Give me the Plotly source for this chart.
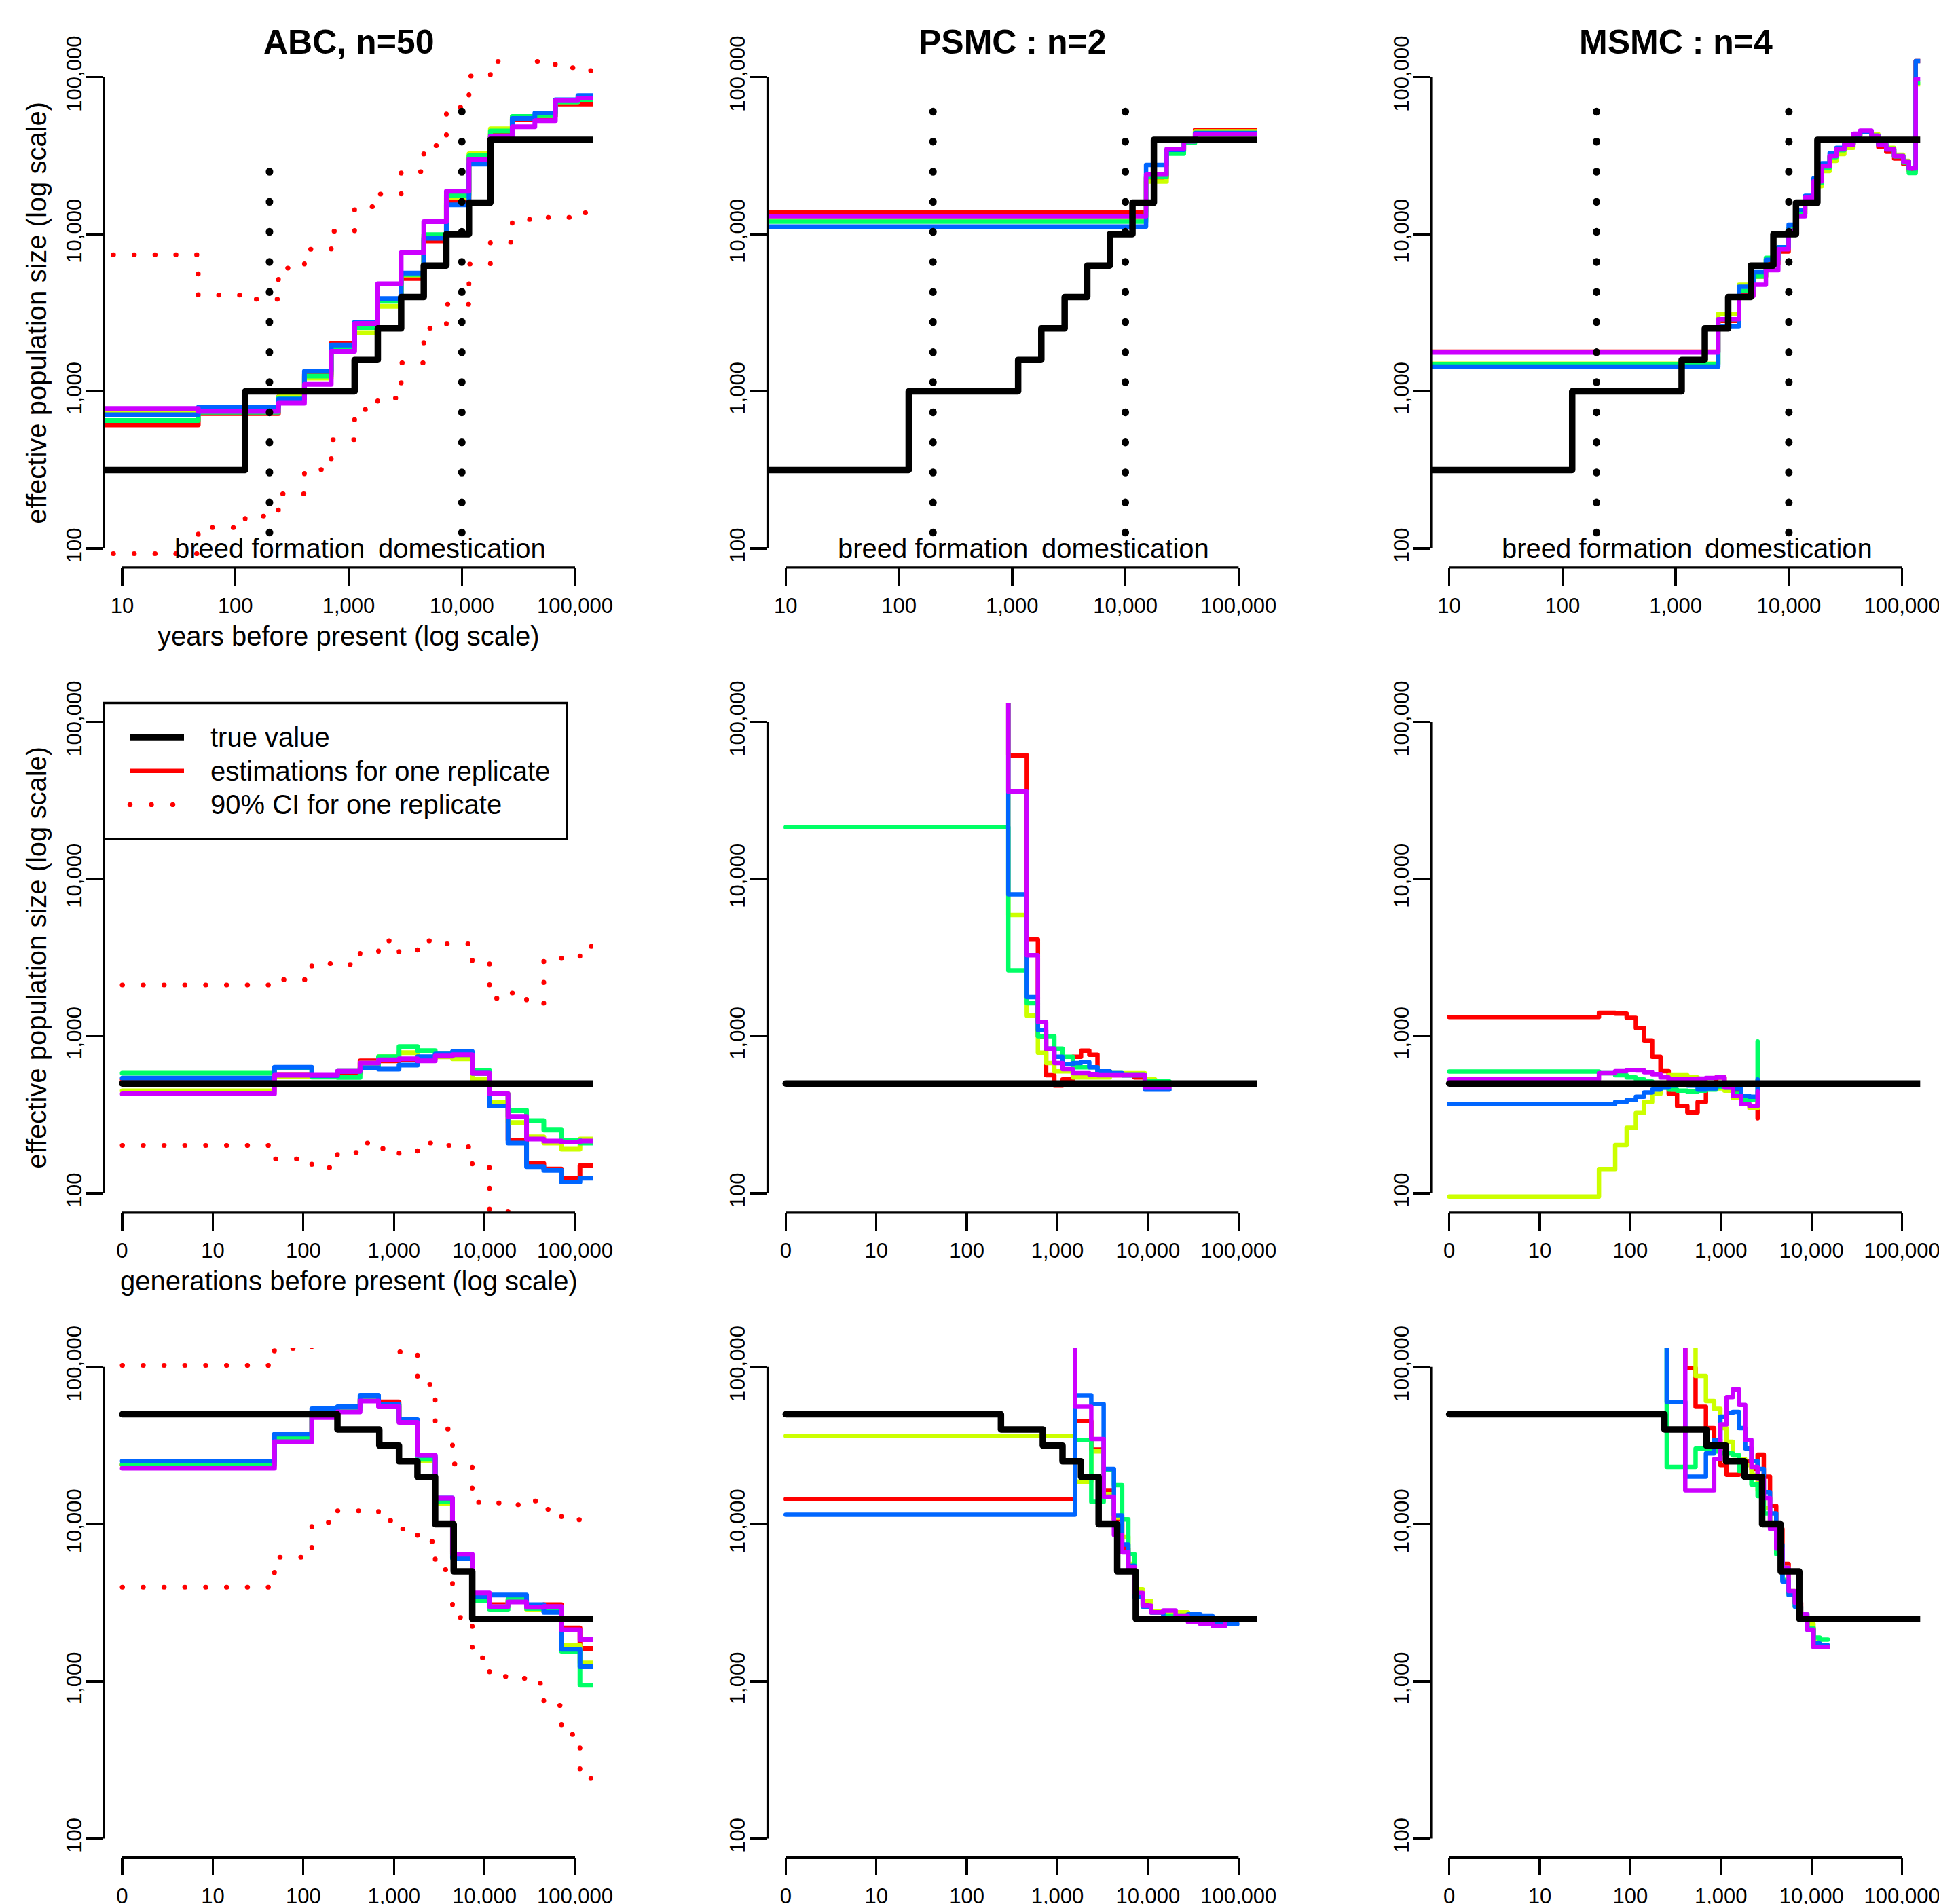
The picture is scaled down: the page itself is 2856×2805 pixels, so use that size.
import math
import plotly.graph_objects as go

# ---------------------------------------------------------------------------
# Effective population size (Ne) through time: true history (black) and five
# replicate estimates (rainbow colours) for ABC, PSMC and MSMC.
# Every history is a step function: interval start times + Ne on each interval.
# Row 1: time in years; rows 2-3: time in generations (axis shows log10(g + 1)).
# ---------------------------------------------------------------------------
REPLICATE_COLORS = ["#FF0000", "#CCFF00", "#00FF66", "#0066FF", "#CC00FF"]
METHOD_TITLES = ["ABC, n=50", "PSMC : n=2", "MSMC : n=4"]

YEAR_TICKS = [10, 100, 1000, 10000, 100000]
YEAR_TICK_TEXT = ["10", "100", "1,000", "10,000", "100,000"]
GEN_TICKS = [1, 10, 100, 1000, 10000, 100000]
GEN_TICK_TEXT = ["0", "10", "100", "1,000", "10,000", "100,000"]
NE_TICKS = [100, 1000, 10000, 100000]
NE_TICK_TEXT = ["100", "1,000", "10,000", "100,000"]

TIME_MAX = 300000          # open-ended last interval
OFF_SCALE = 1e6            # estimate far above the plotted Ne range

# events marked on the year-scale row
EVENT_YEARS = [200, 10000]
EVENT_LABELS = ["breed formation", "domestication"]
EVENT_NE_LOW = 126
EVENT_NE_HIGH = [[27000, 66000], [66000, 66000], [66000, 66000]]

# ---------------- scenario 1 (years) ----------------
TRUE1_YEARS = [1, 122, 1130, 1810, 2910, 4610, 7300, 11560, 17870]
TRUE1_NE = [316, 1000, 1585, 2512, 3981, 6310, 10000, 15850, 39810]

ABC1_YEARS = [1, 47, 122, 240, 407, 702, 1130, 1806, 2912, 4610, 7300, 11560,
              17870, 27860, 44150, 67000, 106000]
ABC1_RED = [612, 723, 723, 923, 1288, 2023, 2673, 3811, 5224, 9036, 15920, 30550,
            43450, 53460, 56100, 67300, 67300]
ABC1_YELLOW = [745, 753, 753, 923, 1213, 1858, 2366, 3475, 5483, 9594, 17100, 32430,
               46770, 55080, 56750, 69340, 71610]
ABC1_GREEN = [652, 736, 736, 906, 1250, 1914, 2547, 3741, 5546, 9908, 17660, 31480,
              45290, 56100, 56750, 69340, 71610]
ABC1_BLUE = [710, 791, 791, 893, 1343, 1972, 2754, 3899, 5649, 9419, 15350, 27860,
             41880, 54450, 58880, 71610, 76030]
ABC1_MAGENTA = [778, 745, 745, 841, 1107, 1799, 2704, 4831, 7621, 12020, 18750, 29990,
                41880, 48190, 52720, 70630, 73280]
ABC1_CI_HIGH = [7400, 4090, 3855, 6080, 8000, 10450, 14960, 17980, 24950, 36600, 64100,
                101200, 125300, 148500, 125300, 114300, 109600]
ABC1_CI_LOW = [93, 136, 161, 223, 318, 492, 767, 906, 1517, 2518, 3580, 6457, 8870,
               12390, 12790, 12790, 13680]

PSMC1_YEARS = [1, 15240, 23170, 32900, 41260]
PSMC1_RED = [13840, 22800, 34000, 38900, 46100]
PSMC1_YELLOW = [12390, 21580, 33400, 38900, 45050]
PSMC1_GREEN = [12020, 23230, 32430, 38000, 43980]
PSMC1_BLUE = [11170, 27560, 34400, 39500, 43980]
PSMC1_MAGENTA = [13010, 23930, 34900, 38900, 43150]

MSMC1_YEARS = [1, 2380, 3620, 4860, 6270, 8070, 9950, 11780, 13930, 16520, 19500, 22910,
               26300, 30900, 37150, 42660, 53700, 61660, 72440, 85110, 102300, 114800,
               131800]
MSMC1_RED = [1791, 2806, 4093, 5383, 6457, 7762, 10280, 13430, 17100, 21630, 26980, 31330,
             34590, 37070, 42560, 44870, 40800, 35800, 33400, 30300, 27900, 25300, 126000]
MSMC1_YELLOW = [1500, 3112, 4764, 5383, 6871, 8241, 10840, 13430, 16300, 20200, 25200,
                29240, 32280, 35400, 41600, 44870, 43200, 37900, 35400, 32000, 29200,
                26200, 90000]
MSMC1_GREEN = [1482, 2877, 4355, 5383, 7080, 8241, 10840, 13430, 17100, 21150, 26400,
               30900, 34200, 36800, 42000, 44500, 42270, 37400, 35000, 31300, 28500,
               24430, 92000]
MSMC1_BLUE = [1438, 2594, 4624, 5728, 6871, 8241, 11480, 14260, 17500, 22640, 28250,
              32800, 35400, 37500, 42560, 44870, 42270, 37070, 34590, 31330, 28910,
              26180, 126000]
MSMC1_MAGENTA = [1767, 2877, 4046, 4764, 5902, 8000, 10520, 13010, 17100, 21630, 26980,
                 31330, 34590, 37070, 43500, 45500, 42270, 37070, 34590, 31330, 28910,
                 26180, 96700]

# ---------------- scenario 2 (generations, constant size) ----------------
TRUE2_GEN = [0]
TRUE2_NE = [500]

ABC_GEN = [0, 47, 123, 237, 422, 675, 1138, 1822, 2857, 4432, 7325, 11360, 18180,
           29120, 45170, 70800, 113300]
ABC2_RED = [531, 564, 562, 581, 697, 697, 708, 718, 748, 771, 581, 430, 218, 155, 143,
            125, 150]
ABC2_YELLOW = [449, 556, 562, 598, 675, 740, 785, 726, 740, 718, 531, 381, 282, 229, 209,
               191, 222]
ABC2_GREEN = [581, 630, 550, 547, 635, 740, 859, 809, 771, 763, 606, 430, 338, 290, 253,
              218, 209]
ABC2_BLUE = [541, 635, 562, 598, 628, 617, 655, 740, 771, 800, 581, 359, 209, 148, 140,
             118, 125]
ABC2_MAGENTA = [430, 564, 565, 598, 675, 708, 718, 697, 748, 763, 581, 430, 309, 222, 215,
                212, 215]
ABC2_CI_HIGH = [2120, 2290, 2900, 2860, 3430, 4040, 3430, 4040, 3870, 3870, 2920, 1740,
                1880, 1620, 3080, 3180, 3720]
ABC2_CI_LOW = [202, 166, 146, 182, 209, 193, 180, 209, 202, 198, 146, 78, 60, 55, 52, 50,
               48]

PSMC2_GEN = [0, 286, 458, 608, 750, 924, 1138, 1479, 1822, 2248, 2769, 3790, 5190, 7100,
             9220, 11970]
PSMC2_END = 17260
PSMC2_RED = [OFF_SCALE, 61100, 4110, 1000, 564, 485, 531, 740, 809, 763, 598, 564, 564,
             547, 515, 500]
PSMC2_YELLOW = [OFF_SCALE, 5900, 1350, 785, 675, 598, 598, 547, 547, 547, 547, 581, 581,
                581, 531, 500]
PSMC2_GREEN = [21300, 2620, 1620, 1000, 1000, 834, 740, 635, 635, 635, 581, 581, 564, 564,
               515, 515]
PSMC2_BLUE = [OFF_SCALE, 7980, 1770, 1094, 834, 740, 664, 675, 684, 635, 598, 581, 564,
              564, 457, 457]
PSMC2_MAGENTA = [OFF_SCALE, 35900, 3270, 1233, 834, 675, 617, 581, 581, 570, 564, 564,
                 564, 564, 471, 471]

MSMC2_GEN = [0, 44, 67, 90, 114, 141, 173, 214, 264, 327, 425, 552, 682, 887, 1094, 1352,
             1667, 2061]
MSMC2_END = 2540
MSMC2_RED = [1325, 1409, 1391, 1309, 1127, 940, 740, 599, 430, 359, 328, 381, 500, 547,
             500, 444, 412, 404]
MSMC2_YELLOW = [95.5, 143, 203, 261, 324, 381, 430, 500, 564, 564, 547, 515, 485, 465, 450,
                404, 370, 348]
MSMC2_GREEN = [596, 581, 564, 547, 531, 515, 485, 471, 457, 450, 444, 450, 457, 478, 471,
               430, 392, 392]
MSMC2_BLUE = [370, 370, 381, 392, 412, 438, 457, 471, 485, 493, 485, 457, 465, 485, 478,
              465, 417, 412]
MSMC2_MAGENTA = [531, 581, 599, 610, 605, 590, 573, 547, 531, 531, 531, 537, 542, 547, 471,
                 417, 370, 359]
MSMC2_END_NE = [300, 348, 925, 531, 444]

# ---------------- scenario 3 (generations, decline) ----------------
TRUE3_GEN = [0, 237, 689, 1137, 1820, 2850, 4570, 7330]
TRUE3_NE = [50000, 40000, 31600, 25100, 20000, 10000, 5000, 2500]

ABC3_RED = [23770, 35970, 51170, 54200, 62340, 59950, 45700, 26600, 13860, 6250, 3388,
            3077, 3258, 2992, 3077, 2188, 1618]
ABC3_YELLOW = [23770, 35970, 51170, 53580, 62340, 57280, 45160, 25160, 13460, 6080, 3350,
               2992, 3313, 2858, 2906, 1695, 1312]
ABC3_GREEN = [24160, 35390, 51170, 53580, 63500, 57280, 45160, 25880, 13860, 6250, 3258,
              2858, 3350, 2906, 2906, 1555, 944]
ABC3_BLUE = [25160, 37430, 54200, 55730, 66070, 57940, 46240, 27420, 14650, 6080, 3445,
             3545, 3545, 3077, 2748, 1600, 1239]
ABC3_MAGENTA = [22680, 33400, 47750, 51760, 60660, 55730, 44370, 27420, 14650, 6440, 3650,
                2992, 3199, 2960, 2992, 2127, 1845]
ABC3_CI_HIGH = [102300, 131200, 158000, 170000, 170000, 150000, 124800, 77400, 40300,
                24160, 13770, 13620, 13310, 14030, 12440, 10670, 10850]
ABC3_CI_LOW = [3970, 6150, 10260, 12160, 12160, 10540, 9310, 7760, 5130, 2550, 1413, 1076,
               1046, 971, 703, 459, 241]

PSMC3_GEN = [0, 1559, 2366, 3240, 4205, 5185, 6070, 7100, 8750, 10790, 14760, 20180,
             27620, 37830, 51740, 70800]
PSMC3_END = 96900
PSMC3_RED = [14420, 45140, 29830, 16440, 10730, 7010, 5270, 3650, 3077, 2748, 2667, 2594,
             2496, 2452, 2410, 2410]
PSMC3_YELLOW = [36390, 18620, 28980, 15520, 11040, 8320, 5590, 3860, 3260, 2790, 2748,
                2748, 2524, 2524, 2496, 2496]
PSMC3_GREEN = [OFF_SCALE, 34350, 13870, 22070, 17710, 10730, 6440, 3587, 2992, 2748, 2594,
               2594, 2552, 2524, 2452, 2452]
PSMC3_BLUE = [11480, 66070, 57990, 22440, 11360, 7410, 5430, 3440, 2992, 2748, 2524, 2524,
              2667, 2594, 2387, 2318]
PSMC3_MAGENTA = [OFF_SCALE, 55750, 34750, 14940, 8550, 6620, 5330, 3650, 3027, 2748, 2827,
                 2594, 2387, 2318, 2250, 2524]

MSMC3_GEN = [0, 251, 403, 524, 682, 841, 985, 1154, 1352, 1583, 1854, 2169, 2540, 2973,
             3483, 4080, 4776, 5594, 6550, 7670, 8980, 10520, 12310]
MSMC3_END = 15200
MSMC3_RED = [OFF_SCALE, OFF_SCALE, 98300, 55730, 40740, 34390, 23770, 20610, 20610, 21220,
             25160, 22460, 27710, 20030, 13080, 9310, 5590, 3650, 3165, 2594, 2190, 1742,
             1648]
MSMC3_YELLOW = [OFF_SCALE, OFF_SCALE, OFF_SCALE, 87700, 60660, 54200, 40740, 33400, 27420,
                25880, 23770, 20610, 16430, 12720, 9860, 7010, 5270, 3750, 3165, 2594,
                2318, 1791, 1648]
MSMC3_GREEN = [OFF_SCALE, 23120, 23120, 30170, 29830, 28980, 28180, 28180, 27420, 21820,
               20030, 17920, 15080, 11700, 9860, 6440, 4450, 3545, 2990, 2670, 2190,
               1897, 1845]
MSMC3_BLUE = [OFF_SCALE, 59950, 20030, 20030, 28180, 34390, 48320, 51170, 51760, 40740,
              30340, 25160, 22460, 15960, 11700, 7410, 4320, 3545, 2990, 2552, 2127, 1742,
              1695]
MSMC3_MAGENTA = [OFF_SCALE, OFF_SCALE, 16430, 16430, 16430, 25880, 43120, 64270, 71950,
                 57280, 34390, 23120, 19470, 14650, 9310, 7010, 5270, 3750, 3165, 2670,
                 2127, 1648, 1648]

# ---------------------------------------------------------------------------
# Page geometry (pixels) and styling
# ---------------------------------------------------------------------------
W, H = 2856, 2805
FONT = "Liberation Sans, Arial, Helvetica, sans-serif"
COL_LEFT = [153.3, 1130.6, 2107.9]
ROW_TOP = [85.5, 1035.5, 1986.0]
PLOT_W, PLOT_H = 720.4, 750.4
YEAR_RANGE = [0.84, 5.16]      # log10 range, year axis
GEN_RANGE = [-0.2, 5.2]        # log10 range, generation axis
NE_RANGE = [1.88, 5.12]        # log10 range, Ne axis
AXIS_LW = 3.4
TICK_LEN = 26
TRUE_LW = 9.5
EST_LW = [7, 6.5, 6.5]
CI_DOTS = "0.5px,30.2px"
EVENT_DOTS = "0.5px,43.8px"
TICK_FONT = 31

fig = go.Figure()


def axis_ids(p):
    n = "" if p == 0 else str(p + 1)
    return "x" + n, "y" + n


def frac(v, rng):
    return (math.log10(v) - rng[0]) / (rng[1] - rng[0])


def add_step(p, starts, values, end, color, width, shift, end_value=None, dash=None):
    xa, ya = axis_ids(p)
    xs = [t + shift for t in starts] + [end + shift]
    ys = list(values) + [values[-1] if end_value is None else end_value]
    fig.add_trace(go.Scatter(
        x=xs, y=ys, mode="lines", xaxis=xa, yaxis=ya,
        line=dict(color=color, width=width, shape="hv", dash=dash),
        hoverinfo="skip", showlegend=False))


PANELS = [
    dict(starts=ABC1_YEARS, est=[ABC1_RED, ABC1_YELLOW, ABC1_GREEN, ABC1_BLUE, ABC1_MAGENTA],
         end=TIME_MAX, ci=(ABC1_CI_LOW, ABC1_CI_HIGH), truth=(TRUE1_YEARS, TRUE1_NE)),
    dict(starts=PSMC1_YEARS, est=[PSMC1_RED, PSMC1_YELLOW, PSMC1_GREEN, PSMC1_BLUE, PSMC1_MAGENTA],
         end=TIME_MAX, truth=(TRUE1_YEARS, TRUE1_NE)),
    dict(starts=MSMC1_YEARS, est=[MSMC1_RED, MSMC1_YELLOW, MSMC1_GREEN, MSMC1_BLUE, MSMC1_MAGENTA],
         end=TIME_MAX, truth=(TRUE1_YEARS, TRUE1_NE)),
    dict(starts=ABC_GEN, est=[ABC2_RED, ABC2_YELLOW, ABC2_GREEN, ABC2_BLUE, ABC2_MAGENTA],
         end=TIME_MAX, ci=(ABC2_CI_LOW, ABC2_CI_HIGH), truth=(TRUE2_GEN, TRUE2_NE)),
    dict(starts=PSMC2_GEN, est=[PSMC2_RED, PSMC2_YELLOW, PSMC2_GREEN, PSMC2_BLUE, PSMC2_MAGENTA],
         end=PSMC2_END, truth=(TRUE2_GEN, TRUE2_NE)),
    dict(starts=MSMC2_GEN, est=[MSMC2_RED, MSMC2_YELLOW, MSMC2_GREEN, MSMC2_BLUE, MSMC2_MAGENTA],
         end=MSMC2_END, end_ne=MSMC2_END_NE, truth=(TRUE2_GEN, TRUE2_NE)),
    dict(starts=ABC_GEN, est=[ABC3_RED, ABC3_YELLOW, ABC3_GREEN, ABC3_BLUE, ABC3_MAGENTA],
         end=TIME_MAX, ci=(ABC3_CI_LOW, ABC3_CI_HIGH), truth=(TRUE3_GEN, TRUE3_NE)),
    dict(starts=PSMC3_GEN, est=[PSMC3_RED, PSMC3_YELLOW, PSMC3_GREEN, PSMC3_BLUE, PSMC3_MAGENTA],
         end=PSMC3_END, truth=(TRUE3_GEN, TRUE3_NE)),
    dict(starts=MSMC3_GEN, est=[MSMC3_RED, MSMC3_YELLOW, MSMC3_GREEN, MSMC3_BLUE, MSMC3_MAGENTA],
         end=MSMC3_END, truth=(TRUE3_GEN, TRUE3_NE)),
]

layout_axes = {}
shapes = []
annotations = []

for p, spec in enumerate(PANELS):
    r, c = divmod(p, 3)
    xa, ya = axis_ids(p)
    shift = 0 if r == 0 else 1
    lw = EST_LW[c]

    # replicate estimates
    for k, vals in enumerate(spec["est"]):
        end_val = spec["end_ne"][k] if "end_ne" in spec else None
        add_step(p, spec["starts"], vals, spec["end"], REPLICATE_COLORS[k], lw, shift,
                 end_value=end_val)
    # credible interval of one replicate
    if "ci" in spec:
        for band in spec["ci"]:
            add_step(p, spec["starts"], band, spec["end"], "#FF0000", 7, shift, dash=CI_DOTS)
    # true history
    t_starts, t_ne = spec["truth"]
    add_step(p, t_starts, t_ne, TIME_MAX, "black", TRUE_LW, shift)

    # axes
    left, top = COL_LEFT[c], ROW_TOP[r]
    if r == 0:
        xr, tv, tt = YEAR_RANGE, YEAR_TICKS, YEAR_TICK_TEXT
    else:
        xr, tv, tt = GEN_RANGE, GEN_TICKS, GEN_TICK_TEXT
    common = dict(type="log", showgrid=False, zeroline=False, showline=False,
                  ticks="outside", ticklen=TICK_LEN, tickwidth=AXIS_LW, tickcolor="black",
                  tickfont=dict(family=FONT, size=TICK_FONT, color="black"),
                  tickmode="array", automargin=False, fixedrange=True,
                  ticklabeloverflow="allow")
    layout_axes["xaxis" + xa[1:]] = dict(
        domain=[left / W, (left + PLOT_W) / W], anchor=ya, range=xr,
        tickvals=tv, ticktext=tt, ticklabelstandoff=3, **common)
    layout_axes["yaxis" + ya[1:]] = dict(
        domain=[1 - (top + PLOT_H) / H, 1 - top / H], anchor=xa, range=NE_RANGE,
        tickvals=NE_TICKS, ticktext=NE_TICK_TEXT, tickangle=-90, ticklabelstandoff=-6,
        **common)

    # axis lines spanning first to last tick
    shapes.append(dict(type="line", xref=xa + " domain", yref=ya + " domain",
                       x0=frac(tv[0], xr), x1=frac(tv[-1], xr), y0=0, y1=0,
                       line=dict(color="black", width=AXIS_LW)))
    shapes.append(dict(type="line", xref=xa + " domain", yref=ya + " domain",
                       x0=0, x1=0, y0=frac(NE_TICKS[0], NE_RANGE),
                       y1=frac(NE_TICKS[-1], NE_RANGE),
                       line=dict(color="black", width=AXIS_LW)))

    # historical events on the year scale
    if r == 0:
        for e, year in enumerate(EVENT_YEARS):
            fig.add_trace(go.Scatter(
                x=[year, year], y=[EVENT_NE_LOW, EVENT_NE_HIGH[c][e]], mode="lines",
                xaxis=xa, yaxis=ya, line=dict(color="black", width=11, dash=EVENT_DOTS),
                hoverinfo="skip", showlegend=False))
            annotations.append(dict(
                text=EVENT_LABELS[e], xref=xa + " domain", yref=ya + " domain",
                x=frac(year, xr), y=frac(100, NE_RANGE), showarrow=False,
                xanchor="center", yanchor="middle",
                font=dict(family=FONT, size=40, color="black")))
        annotations.append(dict(
            text="<b>" + METHOD_TITLES[c] + "</b>", xref="paper", yref="paper",
            x=(left + PLOT_W / 2) / W, y=1 - 62 / H, showarrow=False,
            xanchor="center", yanchor="middle",
            font=dict(family=FONT, size=50, color="black")))

# axis titles (first column only)
for r, xtitle in enumerate(["years before present (log scale)",
                            "generations before present (log scale)"]):
    annotations.append(dict(
        text=xtitle, xref="paper", yref="paper",
        x=(COL_LEFT[0] + PLOT_W / 2) / W, y=1 - (ROW_TOP[r] + PLOT_H + 101) / H,
        showarrow=False, xanchor="center", yanchor="middle",
        font=dict(family=FONT, size=40, color="black")))
    annotations.append(dict(
        text="effective population size (log scale)", xref="paper", yref="paper",
        x=54 / W, y=1 - (ROW_TOP[r] + PLOT_H / 2) / H, textangle=-90,
        showarrow=False, xanchor="center", yanchor="middle",
        font=dict(family=FONT, size=40, color="black")))

# legend box (top-left of the ABC constant-size panel)
LEG_X0, LEG_Y0, LEG_X1, LEG_Y1 = 153.3, 1035.5, 835.0, 1235.7
LEG_ROWS = [1086.0, 1135.7, 1185.4]
LEG_TEXT = ["true value", "estimations for one replicate", "90% CI for one replicate"]
shapes.append(dict(type="rect", xref="paper", yref="paper",
                   x0=LEG_X0 / W, x1=LEG_X1 / W, y0=1 - LEG_Y1 / H, y1=1 - LEG_Y0 / H,
                   line=dict(color="black", width=AXIS_LW), fillcolor="white"))
shapes.append(dict(type="line", xref="paper", yref="paper",
                   x0=191 / W, x1=271 / W, y0=1 - LEG_ROWS[0] / H, y1=1 - LEG_ROWS[0] / H,
                   line=dict(color="black", width=TRUE_LW)))
shapes.append(dict(type="line", xref="paper", yref="paper",
                   x0=191 / W, x1=271 / W, y0=1 - LEG_ROWS[1] / H, y1=1 - LEG_ROWS[1] / H,
                   line=dict(color="#FF0000", width=6.5)))
for cx in [191.5, 223.0, 254.5]:
    rad = 3.7
    shapes.append(dict(type="circle", xref="paper", yref="paper",
                       x0=(cx - rad) / W, x1=(cx + rad) / W,
                       y0=1 - (LEG_ROWS[2] + rad) / H, y1=1 - (LEG_ROWS[2] - rad) / H,
                       line=dict(width=0), fillcolor="#FF0000"))
for yrow, label in zip(LEG_ROWS, LEG_TEXT):
    annotations.append(dict(
        text=label, xref="paper", yref="paper", x=308 / W, y=1 - yrow / H,
        showarrow=False, xanchor="left", yanchor="middle",
        font=dict(family=FONT, size=40, color="black")))

fig.update_layout(
    width=W, height=H, margin=dict(l=0, r=0, t=0, b=0),
    paper_bgcolor="white", plot_bgcolor="white", showlegend=False,
    font=dict(family=FONT, color="black"),
    shapes=shapes, annotations=annotations, **layout_axes)

# R-style round line ends/joins (gives round dots for the dotted lines)
ROUND_CAPS_JS = (
    "var s=document.createElement('style');"
    "s.textContent='.scatterlayer .js-line{stroke-linecap:round;stroke-linejoin:round;}';"
    "document.head.appendChild(s);"
)
fig.write_html("out.html", include_plotlyjs=True, post_script=ROUND_CAPS_JS,
               config={"displayModeBar": False, "staticPlot": True})
